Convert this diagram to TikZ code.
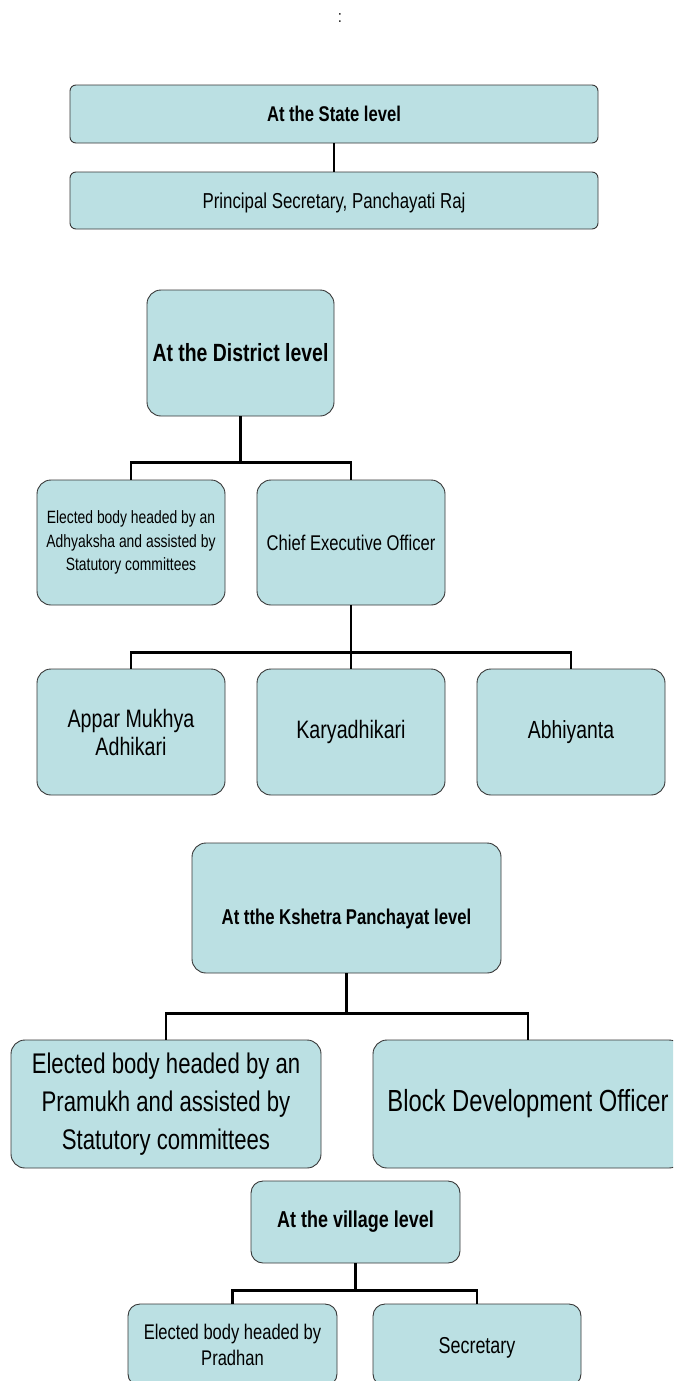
\documentclass[tikz,border=0pt]{standalone}
\usepackage{fontspec}
\setmainfont[FakeStretch=0.78]{Liberation Sans}
\definecolor{boxfill}{RGB}{187,224,227}
\definecolor{boxline}{RGB}{55,55,55}
\tikzset{
  orgbox/.style={draw=boxline, line width=0.9pt, fill=boxfill, rounded corners=14pt, align=center, inner sep=0pt, text=black},
  conn/.style={draw=black, line width=2.8pt}
}
\newcommand{\fs}[2]{\fontsize{#1}{#2}\selectfont}
\begin{document}
\begin{tikzpicture}[x=1pt,y=-1pt]
\useasboundingbox (0,0) rectangle (673,1381);
\begin{scope}
\clip (0,0) rectangle (673,1381);
\node[font=\fs{17}{18}] (colon) at (340,18) {:};
% State level
\node[orgbox, rounded corners=6pt, minimum width=528pt, minimum height=58pt, font=\fs{21.3}{24}\bfseries] (state) at (334,114) {At the State level};
\node[orgbox, rounded corners=6pt, minimum width=528pt, minimum height=57pt, font=\fs{21.6}{24}, text height=17pt, text depth=2pt] (princ) at (334,200.5) {Principal Secretary, Panchayati Raj};
% District level
\node[orgbox, minimum width=187pt, minimum height=126pt, font=\fs{24.9}{28}\bfseries] (dist) at (240.5,353) {At the District level};
\node[orgbox, minimum width=188pt, minimum height=125pt, font=\fs{17.8}{23.5}] (elecA) at (131,542.5) {Elected body headed by an\\Adhyaksha and assisted by\\Statutory committees};
\node[orgbox, minimum width=188pt, minimum height=125pt, font=\fs{21.3}{24}] (ceo) at (351,542.5) {Chief Executive Officer};
\node[orgbox, minimum width=188pt, minimum height=126pt, font=\fs{25.2}{28}] (appar) at (131,732) {Appar Mukhya\\Adhikari};
\node[orgbox, minimum width=188pt, minimum height=126pt, font=\fs{25.2}{28}] (karya) at (351,732) {Karyadhikari};
\node[orgbox, minimum width=188pt, minimum height=126pt, font=\fs{24.8}{28}] (abhi) at (571,732) {Abhiyanta};
% Kshetra level
\node[orgbox, minimum width=309pt, minimum height=130pt, font=\fs{21.4}{24}\bfseries, text height=37pt, text depth=5pt] (ksh) at (346.5,908) {At tthe Kshetra Panchayat level};
\node[orgbox, minimum width=310pt, minimum height=128pt, font=\fs{28.4}{38.3}] (elecP) at (166,1104) {Elected body headed by an\\Pramukh and assisted by\\Statutory committees};
\node[orgbox, minimum width=310pt, minimum height=128pt, font=\fs{30.5}{38}] (bdo) at (528,1104) {Block Development Officer};
% Village level
\node[orgbox, rounded corners=12pt, minimum width=209pt, minimum height=82pt, font=\fs{23}{26}\bfseries] (vill) at (355.5,1222) {At the village level};
\node[orgbox, rounded corners=12pt, minimum width=209pt, minimum height=82pt, font=\fs{21.2}{26}] (prad) at (232.5,1345) {Elected body headed by\\Pradhan};
\node[orgbox, rounded corners=12pt, minimum width=208pt, minimum height=82pt, font=\fs{23}{26}, text height=19pt, text depth=2pt] (secr) at (477,1345) {Secretary};
% connectors
\draw[conn] (state.south) -- (princ.north);
\draw[conn] (dist.south) -- ++(0,46) -| (elecA.north);
\draw[conn] (dist.south) ++(0,46) -| (ceo.north);
\draw[conn] (ceo.south) -- ++(0,47) -| (appar.north);
\draw[conn] (ceo.south) -- (karya.north);
\draw[conn] (ceo.south) ++(0,47) -| (abhi.north);
\draw[conn] (ksh.south) -- ++(0,40) -| (elecP.north);
\draw[conn] (ksh.south) ++(0,40) -| (bdo.north);
\draw[conn] (vill.south) -- ++(0,27) -| (prad.north);
\draw[conn] (vill.south) ++(0,27) -| (secr.north);
\end{scope}
\end{tikzpicture}
\end{document}
